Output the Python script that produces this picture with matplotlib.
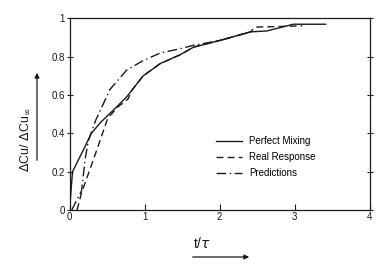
import numpy as np
import matplotlib
matplotlib.use("Agg")
import matplotlib.pyplot as plt

plt.rcParams['font.family'] = ['Liberation Sans', 'DejaVu Sans']

# Perfect Mixing (solid)
perfect_t = [0, 0.04, 0.18, 0.29, 0.42, 0.58, 0.76, 0.98, 1.21, 1.47, 1.65, 2.0, 2.41, 2.63, 2.98, 3.41]
perfect_y = [0, 0.20, 0.31, 0.40, 0.46, 0.52, 0.59, 0.70, 0.765, 0.81, 0.85, 0.885, 0.93, 0.935, 0.97, 0.97]

# Real Response (dashed)
real_t = [0.1, 0.16, 0.27, 0.36, 0.51, 0.65, 0.78, 0.83, 0.98, 1.21, 1.47, 1.65, 2.0, 2.41, 2.47, 2.8, 3.1]
real_y = [0, 0.09, 0.21, 0.31, 0.48, 0.54, 0.58, 0.625, 0.70, 0.765, 0.81, 0.85, 0.885, 0.93, 0.955, 0.958, 0.962]

# Predictions (dash-dot)
pred_t = [0.03, 0.12, 0.16, 0.21, 0.25, 0.35, 0.54, 0.76, 0.98, 1.21, 1.45, 1.65, 2.0, 2.41]
pred_y = [0, 0.07, 0.10, 0.27, 0.36, 0.47, 0.63, 0.73, 0.78, 0.82, 0.84, 0.86, 0.885, 0.93]

xticks = [0, 1, 2, 3, 4]
yticks = [0, 0.2, 0.4, 0.6, 0.8, 1]
yticklabels = ['0', '0.2', '0.4', '0.6', '0.8', '1']

fig = plt.figure(figsize=(3.79, 2.64), dpi=100)
ax = fig.add_axes([0.1834, 0.2045, 0.7926, 0.7255])

lc = '#1a1a1a'
ax.plot(perfect_t, perfect_y, color=lc, lw=1.0, ls='-', label='Perfect Mixing')
ax.plot(real_t, real_y, color=lc, lw=1.0, ls=(0, (5, 3)), label='Real Response')
ax.plot(pred_t, pred_y, color=lc, lw=1.0, ls=(0, (7, 2.5, 1, 2.5)), label='Predictions')

ax.set_xlim(0, 4)
ax.set_ylim(0, 1)
ax.set_xticks(xticks)
ax.set_yticks(yticks)
ax.set_yticklabels(yticklabels)
ax.tick_params(direction='inout', length=4, width=0.8, labelsize=7, pad=1.5,
               right=True, top=False, colors=lc)
ax.tick_params(axis='x', direction='in', length=4)
ax.tick_params(axis='y', labelright=False)
for s in ax.spines.values():
    s.set_linewidth(0.9)
    s.set_color(lc)

leg = ax.legend(loc='upper left', bbox_to_anchor=(0.46, 0.43), frameon=False,
                fontsize=7, handlelength=2.6, handletextpad=0.8, labelspacing=0.6)

# axis labels with arrows
fig.text(25 / 379, 1 - 140 / 264, r'$\Delta$Cu/ $\Delta$Cu$_\infty$', rotation=90,
         ha='center', va='center', fontsize=9, color=lc)
fig.add_artist(matplotlib.patches.FancyArrowPatch(
    (37 / 379, 1 - 163 / 264), (37 / 379, 1 - 70 / 264), transform=fig.transFigure,
    arrowstyle='-|>', mutation_scale=7, color=lc, lw=0.9))
fig.text(202 / 379, 1 - 243 / 264, r't/$\tau$', ha='center', va='center',
         fontsize=10, color=lc)
fig.add_artist(matplotlib.patches.FancyArrowPatch(
    (190 / 379, 1 - 257 / 264), (252 / 379, 1 - 257 / 264), transform=fig.transFigure,
    arrowstyle='-|>', mutation_scale=7, color=lc, lw=0.9))

fig.savefig('out.png', dpi=100)
